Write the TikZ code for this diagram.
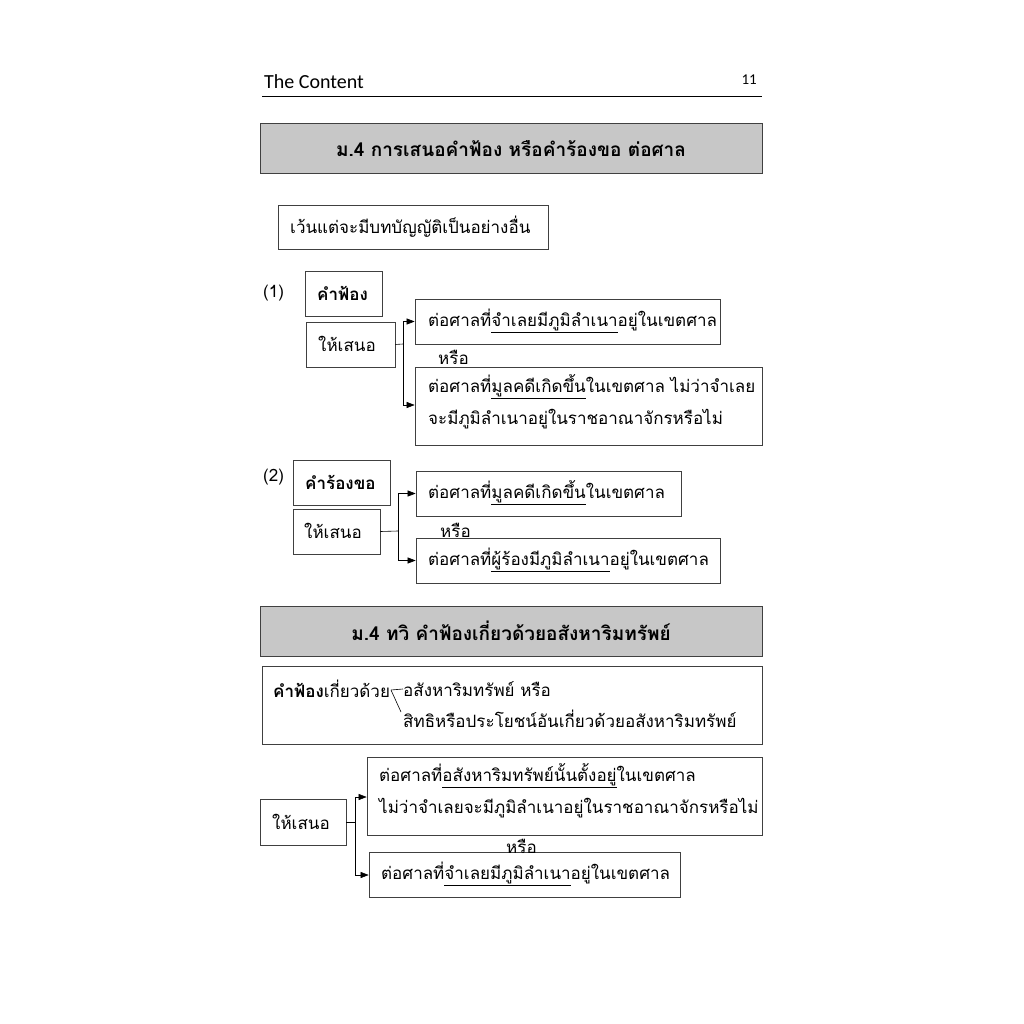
\documentclass[tikz,border=0pt]{standalone}
\usepackage{fontspec}
\setmainfont{Loma}[Script=Thai]
\newfontfamily\hdr{Carlito}
\usetikzlibrary{arrows.meta}
\begin{document}
\begin{tikzpicture}[x=1pt,y=-1pt,
  bx/.style={draw=black!75,line width=0.7pt,rectangle,inner sep=0pt},
  ttl/.style={draw=black!75,fill=black!22,line width=1pt,inner sep=0pt},
  txt/.style={anchor=west,inner sep=0pt,font=\fontsize{17}{32}\selectfont},
  arr/.style={-{Triangle[length=8pt,width=6pt]},line width=0.6pt},
  ln/.style={line width=0.6pt}]
\useasboundingbox (0,0) rectangle (1024,1024);
\fill[white] (0,0) rectangle (1024,1024);
\newcommand\bxx[5]{\node[bx,minimum width=#4-#2,minimum height=#5-#3] (#1) at ({(#2+#4)/2},{(#3+#5)/2}) {};}
% header
\node[anchor=west,inner sep=0pt,font=\hdr\fontsize{20}{24}\selectfont] (hd) at (264,82) {The Content};
\node[anchor=east,inner sep=0pt,font=\hdr\fontsize{15}{18}\selectfont] (pg) at (757,80) {11};
\coordinate (hl1) at (262,97); \coordinate (hr1) at (762,97);
\draw[line width=1pt] (hl1) -- (hr1);
% title 1
\node[ttl,minimum width=502,minimum height=50,font=\bfseries\fontsize{19}{24}\selectfont] (t1) at (511,149) {ม.4 การเสนอคำฟ้อง หรือคำร้องขอ ต่อศาล};
\bxx{ex}{278}{205}{548}{249}
\node[txt] (ext) at (290,227) {เว้นแต่จะมีบทบัญญัติเป็นอย่างอื่น};
% (1)
\node[txt] (n1) at (263,293) {(1)};
\bxx{kf}{305}{271}{382}{316}
\node[txt,font=\bfseries\fontsize{17}{32}\selectfont] (kft) at (317,293) {คำฟ้อง};
\bxx{hs1}{306}{322}{395}{367}
\node[txt] (hs1t) at (318,344) {ให้เสนอ};
\bxx{a}{415}{299}{720}{344}
\node[txt] (at) at (428,321) {ต่อศาลที่\underline{จำเลยมีภูมิลำเนา}อยู่ในเขตศาล};
\bxx{b}{415}{367}{762}{445}
\node[txt,align=left,anchor=north west] (bt) at (428,374) {ต่อศาลที่\underline{มูลคดีเกิดขึ้น}ในเขตศาล ไม่ว่าจำเลย\\จะมีภูมิลำเนาอยู่ในราชอาณาจักรหรือไม่};
\node[txt] (or1) at (438,357) {หรือ};
\coordinate (f1) at (403,344);
\draw[ln] (hs1.east) -- (f1);
\draw[arr] (f1) |- (a.west);
\draw[arr] (f1) |- (b.west |- 0,405);
% (2)
\node[txt] (n2) at (263,477) {(2)};
\bxx{kr}{293}{460}{390}{505}
\node[txt,font=\bfseries\fontsize{17}{32}\selectfont] (krt) at (305,482) {คำร้องขอ};
\bxx{hs2}{293}{509}{380}{554}
\node[txt] (hs2t) at (304,531) {ให้เสนอ};
\bxx{c}{416}{471}{681}{516}
\node[txt] (ct) at (428,493) {ต่อศาลที่\underline{มูลคดีเกิดขึ้น}ในเขตศาล};
\bxx{d}{416}{538}{720}{583}
\node[txt] (dt) at (428,560) {ต่อศาลที่\underline{ผู้ร้องมีภูมิลำเนา}อยู่ในเขตศาล};
\node[txt] (or2) at (440,530) {หรือ};
\coordinate (f2) at (398,531);
\draw[ln] (hs2.east) -- (f2);
\draw[arr] (f2) |- (c.west);
\draw[arr] (f2) |- (d.west);
% title 2
\node[ttl,minimum width=502,minimum height=50,font=\bfseries\fontsize{19}{24}\selectfont] (t2) at (511,631) {ม.4 ทวิ คำฟ้องเกี่ยวด้วยอสังหาริมทรัพย์};
\bxx{e}{262}{666}{762}{744}
\node[txt] (et) at (273,689) {\textbf{คำฟ้อง}เกี่ยวด้วย};
\node[txt] (e1) at (403,689) {อสังหาริมทรัพย์ หรือ};
\node[txt] (e2) at (403,719) {สิทธิหรือประโยชน์อันเกี่ยวด้วยอสังหาริมทรัพย์};
\coordinate (eb) at (391,690);
\draw[ln] (eb) -- (e1.west);
\draw[ln] (eb) -- (401,712);
% bottom fork
\bxx{hs3}{260}{799}{346}{845}
\node[txt] (hs3t) at (272,822) {ให้เสนอ};
\bxx{f}{367}{757}{762}{835}
\node[txt,align=left,anchor=north west] (ft) at (379,763) {ต่อศาลที่\underline{อสังหาริมทรัพย์นั้นตั้งอยู่}ในเขตศาล\\ไม่ว่าจำเลยจะมีภูมิลำเนาอยู่ในราชอาณาจักรหรือไม่};
\bxx{g}{369}{852}{680}{897}
\node[txt] (gt) at (381,874) {ต่อศาลที่\underline{จำเลยมีภูมิลำเนา}อยู่ในเขตศาล};
\node[txt] (or3) at (506,846) {หรือ};
\coordinate (f3) at (355,822);
\draw[ln] (hs3.east) -- (f3);
\draw[arr] (f3) |- (f.west |- 0,797);
\draw[arr] (f3) |- (g.west |- 0,875);
\end{tikzpicture}
\end{document}
